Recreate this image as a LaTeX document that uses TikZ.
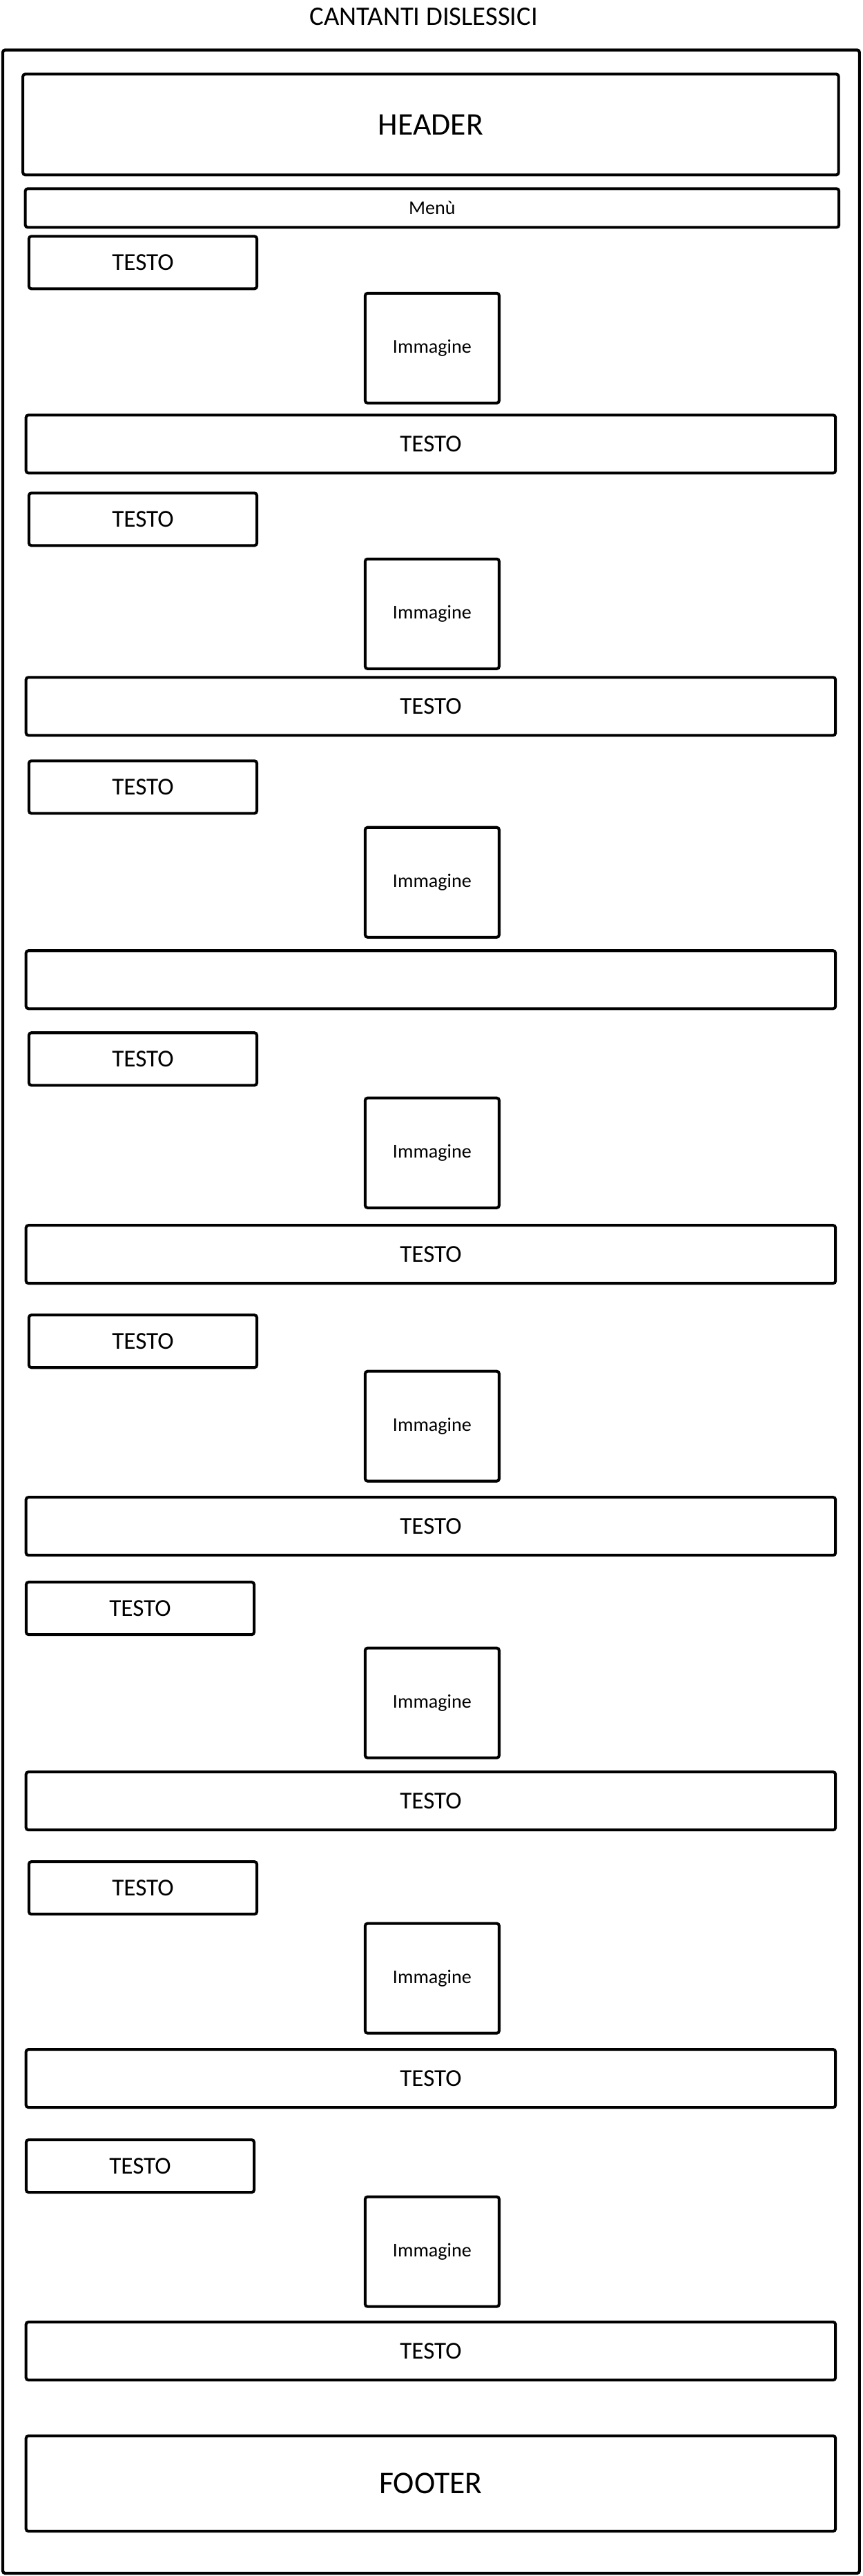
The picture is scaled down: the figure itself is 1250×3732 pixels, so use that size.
\documentclass[tikz,border=0pt]{standalone}
\usepackage{fontspec}
\setmainfont{Carlito}

\begin{document}
\begin{tikzpicture}[x=0.01cm,y=-0.01cm,
	box/.style={draw,line width=1.15pt,rounded corners=1pt,inner sep=0pt,outer sep=0pt},
	testobox/.style={box,minimum width=3.3cm,minimum height=0.76cm,font=\fontsize{10}{12}\selectfont},
	imgbox/.style={box,minimum width=1.94cm,minimum height=1.59cm,font=\fontsize{8}{10}\selectfont},
	rigabox/.style={box,minimum width=11.72cm,minimum height=0.84cm,font=\fontsize{10}{12}\selectfont},
	grande/.style={font=\fontsize{13}{15}\selectfont}]
	\fill[white] (0,0) rectangle (1250,3732);
	%\draw[help lines] (0,0) grid[step=100] (1250,3732);
	\node[font=\fontsize{11}{13}\selectfont] (titolo) at (614,24) {CANTANTI DISLESSICI};
	\draw[line width=1.2pt,rounded corners=1pt] (4,72) rectangle (1245,3728);
	\node[box,grande,minimum width=11.81cm,minimum height=1.46cm] (header) at (624,180) {HEADER};
	\node[box,minimum width=11.78cm,minimum height=0.56cm,font=\fontsize{8}{10}\selectfont] (menu) at (626,301) {Menù};
	% blocchi: testo, immagine, riga
	\foreach \n/\ys/\xs/\yi/\yr/\txt in {1/380/207/504/643/TESTO,2/752/207/889/1023/TESTO,
		3/1140/207/1278/1419/{},4/1534/207/1670/1817/TESTO,5/1943/207/2066/2211/TESTO,
		6/2330/203/2467/2609/TESTO,7/2735/207/2866/3011/TESTO,8/3138/203/3262/3406/TESTO}
	{
		\node[testobox] (testo\n) at (\xs,\ys) {TESTO};
		\node[imgbox] (img\n) at (626,\yi) {Immagine};
		\node[rigabox] (riga\n) at (624,\yr) {\txt};
	}
	\node[box,grande,minimum width=11.72cm,minimum height=1.38cm] (footer) at (624,3598) {FOOTER};
\end{tikzpicture}
\end{document}
